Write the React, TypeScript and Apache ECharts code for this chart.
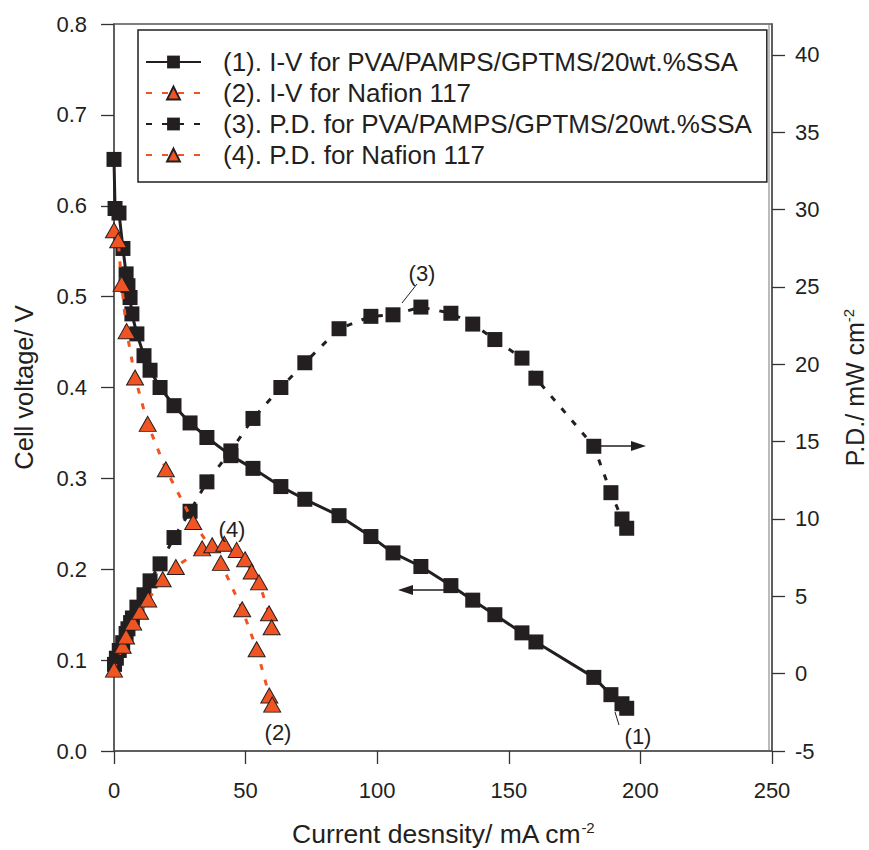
import React, { useEffect, useRef } from "react";
import * as echarts from "echarts";

const FONT = '"Liberation Sans", Arial, Helvetica, sans-serif';
const INK = "#231F20";
const ORANGE = "#F05423";

const seriesNames = [
  "(1). I-V for PVA/PAMPS/GPTMS/20wt.%SSA",
  "(2). I-V for Nafion 117",
  "(3). P.D. for PVA/PAMPS/GPTMS/20wt.%SSA",
  "(4). P.D. for Nafion 117",
];

// (1) I-V, PVA/PAMPS/GPTMS/20wt.%SSA  — current density (mA cm-2) / cell voltage (V)
const ivPvaX = [0, 0.4, 1.9, 3.4, 4.6, 5.3, 6.1, 6.8, 8.7, 11.4, 13.7, 17.5, 22.8, 28.9, 35.3, 44.4, 52.8, 63.4, 72.5, 85.5, 97.6, 106, 116.6, 128, 136.3, 144.7, 155, 160.3, 182.3, 188.8, 193, 194.8];
const ivPvaV = [0.651, 0.597, 0.592, 0.553, 0.525, 0.512, 0.499, 0.481, 0.459, 0.435, 0.419, 0.4, 0.38, 0.361, 0.345, 0.325, 0.311, 0.291, 0.277, 0.259, 0.236, 0.218, 0.203, 0.182, 0.166, 0.15, 0.13, 0.12, 0.081, 0.062, 0.052, 0.047];

// (2) I-V, Nafion 117
const ivNafX = [0, 1.6, 2.9, 4.8, 8.0, 12.8, 19.7, 30.1, 40.6, 48.7, 54.2, 59.0, 60.1];
const ivNafV = [0.573, 0.562, 0.514, 0.462, 0.411, 0.36, 0.31, 0.252, 0.207, 0.156, 0.112, 0.061, 0.051];

// (3) P.D., PVA/PAMPS/GPTMS/20wt.%SSA — power density (mW cm-2)
const pdPvaX = [0.2, 0.9, 2.0, 3.3, 4.6, 5.3, 6.3, 7.0, 8.7, 11.4, 13.7, 17.5, 22.8, 28.9, 35.3, 44.4, 52.8, 63.4, 72.5, 85.5, 97.6, 106, 116.6, 128, 136.3, 144.7, 155, 160.3, 182.3, 188.8, 193, 194.8];
const pdPvaP = [0.6, 1.0, 1.5, 2.0, 2.6, 2.9, 3.3, 3.6, 4.3, 5.1, 6.0, 7.1, 8.8, 10.5, 12.4, 14.4, 16.5, 18.5, 20.1, 22.3, 23.1, 23.2, 23.7, 23.3, 22.6, 21.6, 20.4, 19.1, 14.7, 11.7, 10.0, 9.4];

// (4) P.D., Nafion 117
const pdNafX = [0, 3.3, 4.6, 7.3, 9.9, 13.0, 18.5, 23.5, 33.5, 37.3, 41.9, 46.6, 49.8, 52.3, 55.1, 58.9, 59.9];
const pdNafP = [0.26, 1.8, 2.4, 3.3, 4.0, 4.8, 6.1, 6.9, 8.1, 8.3, 8.4, 8.0, 7.4, 6.6, 5.9, 3.9, 3.0];

const xTicks = { min: 0, max: 250, interval: 50 };
const leftTicks = { min: 0, max: 0.8, interval: 0.1 };
const rightTickValues = [-5, 0, 5, 10, 15, 20, 25, 30, 35, 40];

const pairs = (xs: number[], ys: number[]) => xs.map((x, i) => [x, ys[i]]);

const sup = { fontSize: 15, padding: [0, 0, 12, 0], fontFamily: FONT, color: INK };

const W = 869;
const H = 850;

export default function App() {
  const ref = useRef<HTMLDivElement>(null);

  useEffect(() => {
    if (!ref.current) return;
    const chart = echarts.init(ref.current, undefined, { renderer: "svg", width: W, height: H });

    const axisLine = { show: true, onZero: false, lineStyle: { color: "#555", width: 1.5 } };
    const axisTick = { show: true, length: 13, inside: false, lineStyle: { color: "#333", width: 1.3 } };
    const tickFont = { fontSize: 22, color: INK, fontFamily: FONT };
    const titleFont = { fontSize: 25.5, color: INK, fontFamily: FONT, rich: { sup } };

    const option: any = {
      animation: false,
      textStyle: { fontFamily: FONT, color: INK },
      grid: {
        left: 114,
        right: 97,
        top: 24,
        bottom: 99,
        containLabel: false,
        outerBoundsMode: "none",
        show: true,
        borderColor: "#555",
        borderWidth: 1.5,
        backgroundColor: "transparent",
      },
      legend: {
        orient: "vertical",
        left: 138,
        top: 30,
        padding: [19, 15, 14, 7],
        itemGap: 5,
        itemWidth: 55,
        itemHeight: 16,
        borderColor: INK,
        borderWidth: 1.5,
        backgroundColor: "#fff",
        textStyle: { fontSize: 26, lineHeight: 26, color: INK, fontFamily: FONT, padding: [0, 0, 0, 17] },
        data: seriesNames,
      },
      xAxis: {
        type: "value",
        ...xTicks,
        name: "Current desnsity/ mA cm{sup|-2}",
        nameLocation: "middle",
        nameGap: 69,
        nameTextStyle: { ...titleFont, fontSize: 26.5 },
        axisLine,
        axisTick,
        axisLabel: { ...tickFont, margin: 28 },
        splitLine: { show: false },
      },
      yAxis: [
        {
          type: "value",
          position: "left",
          ...leftTicks,
          name: "Cell voltage/ V",
          nameLocation: "middle",
          nameRotate: 90,
          nameGap: 77,
          nameTextStyle: titleFont,
          axisLine,
          axisTick,
          axisLabel: { ...tickFont, margin: 27, formatter: (v: number) => v.toFixed(1) },
          splitLine: { show: false },
        },
        {
          type: "value",
          position: "right",
          min: -5,
          max: 42,
          interval: 5,
          name: "P.D./ mW cm{sup|-2}",
          nameLocation: "middle",
          nameRotate: 90,
          nameGap: 69,
          nameTextStyle: { ...titleFont, fontSize: 25 },
          axisLine,
          axisTick: { ...axisTick, customValues: rightTickValues },
          axisLabel: { ...tickFont, margin: 23, customValues: rightTickValues },
          splitLine: { show: false },
        },
      ],
      series: [
        {
          name: seriesNames[0],
          type: "line",
          yAxisIndex: 0,
          data: pairs(ivPvaX, ivPvaV),
          symbol: "rect",
          symbolSize: 15,
          lineStyle: { color: INK, width: 3 },
          itemStyle: { color: INK, borderWidth: 0 },
          z: 3,
        },
        {
          name: seriesNames[1],
          type: "line",
          yAxisIndex: 0,
          data: pairs(ivNafX, ivNafV),
          symbol: "triangle",
          symbolSize: [17, 15],
          lineStyle: { color: ORANGE, width: 3, type: [6, 10] },
          itemStyle: { color: ORANGE, borderColor: INK, borderWidth: 1 },
          z: 5,
        },
        {
          name: seriesNames[2],
          type: "line",
          yAxisIndex: 1,
          data: pairs(pdPvaX, pdPvaP),
          symbol: "rect",
          symbolSize: 15,
          lineStyle: { color: INK, width: 3, type: [6, 10] },
          itemStyle: { color: INK, borderWidth: 0 },
          z: 4,
        },
        {
          name: seriesNames[3],
          type: "line",
          yAxisIndex: 1,
          data: pairs(pdNafX, pdNafP),
          symbol: "triangle",
          symbolSize: [17, 15],
          lineStyle: { color: ORANGE, width: 3, type: [6, 10] },
          itemStyle: { color: ORANGE, borderColor: INK, borderWidth: 1 },
          z: 6,
        },
      ],
      graphic: [
        { type: "line", shape: { x1: 769, y1: 24, x2: 769, y2: 751 }, style: { stroke: "#777", lineWidth: 1 } },
        { type: "text", x: 422, y: 273, style: { text: "(3)", fontSize: 22, fill: INK, fontFamily: FONT, align: "center", verticalAlign: "middle" } },
        { type: "line", shape: { x1: 402, y1: 303, x2: 417, y2: 284 }, style: { stroke: INK, lineWidth: 1 } },
        { type: "text", x: 232, y: 529, z: 100, style: { text: "(4)", fontSize: 22, fill: INK, fontFamily: FONT, align: "center", verticalAlign: "middle" } },
        { type: "text", x: 638, y: 736, style: { text: "(1)", fontSize: 22, fill: INK, fontFamily: FONT, align: "center", verticalAlign: "middle" } },
        { type: "line", shape: { x1: 615, y1: 712, x2: 619, y2: 725 }, style: { stroke: INK, lineWidth: 1 } },
        { type: "text", x: 278, y: 732, style: { text: "(2)", fontSize: 22, fill: INK, fontFamily: FONT, align: "center", verticalAlign: "middle" } },
        { type: "line", shape: { x1: 445, y1: 590, x2: 410, y2: 590 }, style: { stroke: INK, lineWidth: 1.5 } },
        { type: "polygon", shape: { points: [[398, 590], [413, 585], [413, 595]] }, style: { fill: INK } },
        { type: "line", shape: { x1: 598, y1: 446, x2: 634, y2: 446 }, style: { stroke: INK, lineWidth: 1.5 } },
        { type: "polygon", shape: { points: [[646, 446], [631, 441], [631, 451]] }, style: { fill: INK } },
      ],
    };

    chart.setOption(option);
    return () => chart.dispose();
  }, []);

  return (
    <div
      ref={ref}
      style={{ position: "fixed", left: 0, top: 0, width: W, height: H, background: "#fff" }}
    />
  );
}
